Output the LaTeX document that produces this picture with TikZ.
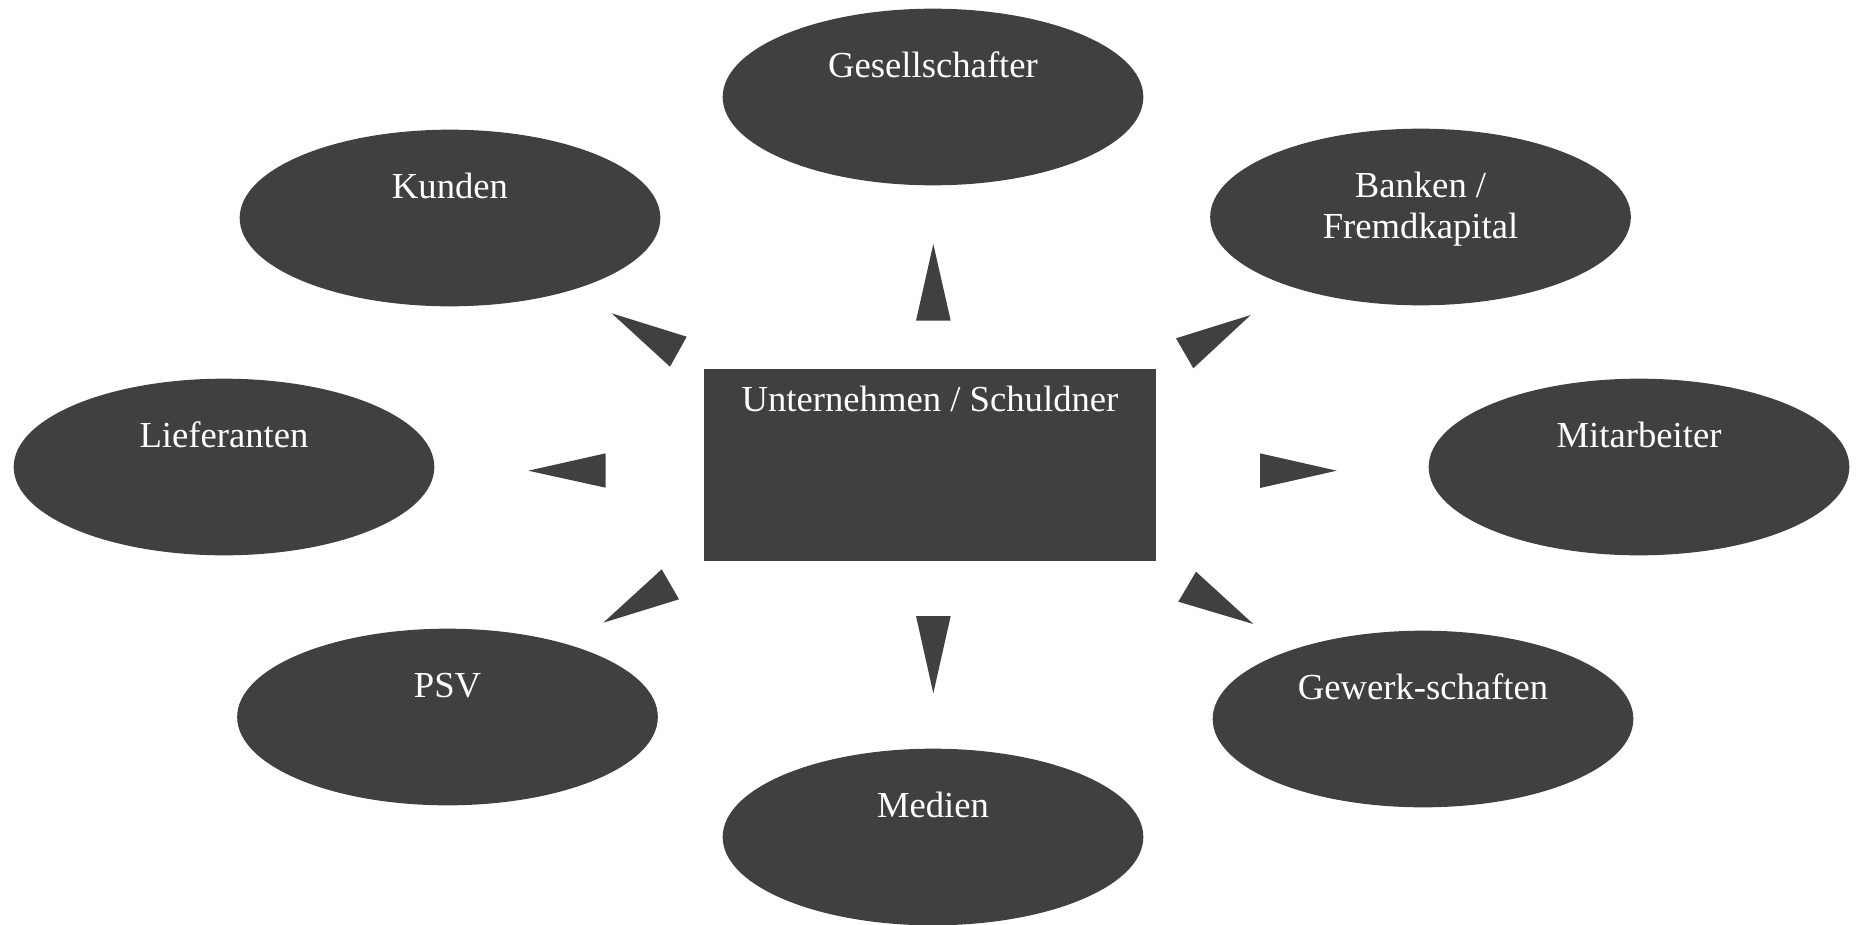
\documentclass[tikz,border=0pt]{standalone}
\usepackage{fontspec}
\setmainfont{Liberation Serif}
\usetikzlibrary{shapes.geometric}

\definecolor{darkgrey}{RGB}{64,64,64}
\tikzset{
  party/.style={ellipse, fill=darkgrey, draw=none, minimum width=315.5pt, minimum height=132.5pt, inner sep=0pt},
  firm/.style={rectangle, fill=darkgrey, draw=none, minimum width=339pt, minimum height=144pt, inner sep=0pt},
  lbl/.style={text=white, inner sep=0pt, anchor=base, align=center, font=\fontsize{27.5}{30.5}\selectfont},
  wedge/.style={fill=darkgrey, draw=none}
}

\begin{document}
\begin{tikzpicture}[x=0.75pt,y=0.75pt,yscale=-1,xscale=1]
\useasboundingbox (0,0) rectangle (1858,924);

%Shape: Ellipses
\node[party] (gesell) at (933,97) {};
\node[party] (kunden) at (450,218) {};
\node[party] (banken) at (1420.5,217) {};
\node[party] (liefer) at (224,467) {};
\node[party] (mitarb) at (1639,467) {};
\node[party] (psv) at (447.5,717) {};
\node[party] (gewerk) at (1423,719) {};
\node[party] (medien) at (933,837) {};

%Shape: Rectangle
\node[firm] (firma) at (930,465) {};

%Shape: Wedges
\fill[wedge] (611.7,313.3) -- (686.7,336.7) -- (670,366.7) -- cycle;
\fill[wedge] (933.3,244) -- (916,320.7) -- (950.7,320.7) -- cycle;
\fill[wedge] (1250.7,315) -- (1176,338.3) -- (1193.3,368.3) -- cycle;
\fill[wedge] (528.3,470.7) -- (605.7,453.3) -- (605.7,487.7) -- cycle;
\fill[wedge] (1336.7,470.7) -- (1260,453.3) -- (1260,488) -- cycle;
\fill[wedge] (603.3,622.7) -- (661.7,569.3) -- (679,599.3) -- cycle;
\fill[wedge] (933.3,693.3) -- (916,616) -- (950.7,616) -- cycle;
\fill[wedge] (1253.3,624) -- (1196,571.7) -- (1178.3,601.7) -- cycle;

% Text Node
\node[lbl] (gesell-t) at ([yshift=-14.5pt]gesell.center) {Gesellschafter};
% Text Node
\node[lbl] (kunden-t) at ([yshift=-14.5pt]kunden.center) {Kunden};
% Text Node
\node[lbl] (banken-t) at ([yshift=16pt]banken.center) {Banken /\\Fremdkapital};
% Text Node
\node[lbl] (liefer-t) at ([yshift=-14.5pt]liefer.center) {Lieferanten};
% Text Node
\node[lbl] (mitarb-t) at ([yshift=-14.5pt]mitarb.center) {Mitarbeiter};
% Text Node
\node[lbl] (psv-t) at ([yshift=-14.5pt]psv.center) {PSV};
% Text Node
\node[lbl] (gewerk-t) at ([yshift=-14.5pt]gewerk.center) {Gewerk-schaften};
% Text Node
\node[lbl] (medien-t) at ([yshift=-14.5pt]medien.center) {Medien};
% Text Node
\node[lbl] (firma-t) at (930,411.7) {Unternehmen / Schuldner};

\end{tikzpicture}
\end{document}
